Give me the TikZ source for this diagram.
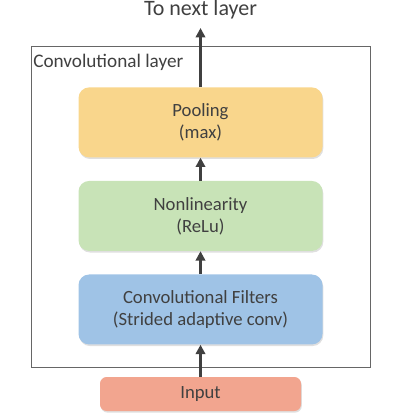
\documentclass[tikz,border=0pt]{standalone}
\usepackage{fontspec}
\setmainfont{Carlito}
\usetikzlibrary{positioning, arrows.meta, shadows}
\definecolor{txtgray}{HTML}{404040}
\definecolor{poolfill}{HTML}{F9D68C}
\definecolor{nonlinfill}{HTML}{C8E3B7}
\definecolor{convfill}{HTML}{9FC3E6}
\definecolor{inputfill}{HTML}{F2A58F}
\tikzset{
  block/.style = {rectangle, rounded corners=8pt, minimum width=183pt, minimum height=52.5pt, text centered, align=center, text=txtgray, font=\fontsize{14}{16.5}\selectfont, drop shadow={shadow xshift=0.6pt, shadow yshift=-1.2pt, opacity=0.25}},
  inblock/.style = {block, minimum width=150.75pt, minimum height=25.5pt, rounded corners=5pt},
  arrow/.style = {draw=txtgray, line width=2.2pt, -{Triangle[width=7pt, length=7pt]}}
}

\begin{document}
\begin{tikzpicture}[x=0.75pt, y=-0.75pt, node distance=17.25pt]
\useasboundingbox (0,0) rectangle (401,416);

%% NODES

\node (input) [inblock, fill=inputfill] at (200.5,394) {Input};
\node (conv) [block, fill=convfill, above=24pt of input] {Convolutional Filters\\(Strided adaptive conv)};
\node (nonlin) [block, fill=nonlinfill, above=of conv] {Nonlinearity\\(ReLu)};
\node (pool) [block, fill=poolfill, above=of nonlin] {Pooling\\(max)};
\node (frame) [draw=txtgray!80, line width=0.6pt, minimum width=254.25pt, minimum height=240.75pt, anchor=north west] at (31,46) {};
\node (framelabel) [anchor=west, text=txtgray, font=\fontsize{14.4}{17}\selectfont, inner sep=0pt] at (33,62) {Convolutional layer};
\coordinate (out) at (200.5,28);
\node (next) [text=txtgray, font=\fontsize{16.5}{19}\selectfont, inner sep=0pt] at (out |- 0,10) {To next layer};

%% ARROWS

\draw [arrow] (input) -- (conv);
\draw [arrow] (conv) -- (nonlin);
\draw [arrow] (nonlin) -- (pool);
\draw [arrow] (pool) -- (out);

\end{tikzpicture}
\end{document}
